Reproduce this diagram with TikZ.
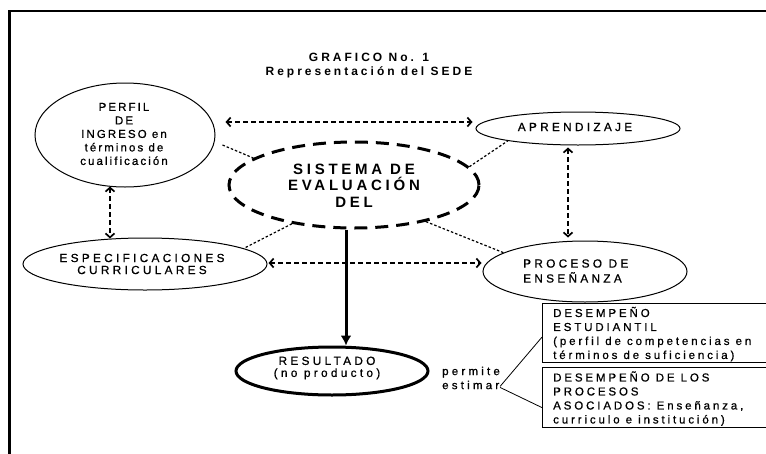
\documentclass[tikz,border=0pt]{standalone}
\usepackage{fontspec}
\setmainfont{Liberation Sans}
\newfontfamily\trk[LetterSpace=28,FakeBold=0.8]{Liberation Sans}
\newfontfamily\trkp[LetterSpace=18,FakeBold=0.8]{Liberation Sans}
\newfontfamily\trks[LetterSpace=25]{Liberation Sans}
\newfontfamily\trkb[LetterSpace=25,FakeBold=0.8]{Liberation Sans}
\usetikzlibrary{shapes.geometric,arrows.meta,calc}
\begin{document}
\begin{tikzpicture}[x=1pt,y=-1pt,
  ell/.style={ellipse, draw, line width=1pt, inner sep=0pt},
  lbl/.style={inner sep=0pt, align=center, font={\trk\fontsize{11.8}{12}\selectfont}},
  lblp/.style={inner sep=0pt, align=center, font={\trkp\fontsize{11.5}{13.5}\selectfont}},
  lbls/.style={inner sep=0pt, align=center, font={\trks\bfseries\fontsize{15}{16.5}\selectfont}},
  ttl/.style={inner sep=0pt, font={\trks\bfseries\fontsize{12}{15}\selectfont}},
  boxst/.style={draw, line width=1.2pt, inner sep=0pt},
  boxtxt/.style={inner sep=0pt, align=left, font={\trkb\fontsize{11.5}{14}\selectfont}},
  dbl/.style={line width=1.7pt, dash pattern=on 5pt off 3pt,
    {Straight Barb[length=4pt,width=9pt]}-{Straight Barb[length=4pt,width=9pt]}},
  thinln/.style={line width=1.2pt, dash pattern=on 2.5pt off 2pt},
  solidln/.style={line width=0.8pt},
  bigarrow/.style={line width=3pt, -{Latex[length=10pt,width=11pt]}}
]
\useasboundingbox (0,0) rectangle (766,453);
% frame
\draw[line width=3.5pt] (9.5,460) -- (9.5,10);
\draw[line width=2pt] (8,11) -- (780,11);
% title
\node[ttl] (t1) at (369,57) {GRAFICO No. 1};
\node[ttl] (t2) at (369,72) {Representación del SEDE};
% ellipses
\node[ell, minimum width=180pt, minimum height=104pt] (perfil) at (125,135) {};
\node[lblp] (perfilt) at (124,134) {PERFIL\\DE\\INGRESO en\\términos de\\cualificación};
\node[ell, minimum width=204pt, minimum height=33pt] (aprend) at (578,128.5) {};
\node[lbl] (aprendt) at (575,127) {APRENDIZAJE};
\node[ell, line width=3pt, dash pattern=on 13pt off 8pt, minimum width=250pt, minimum height=86pt] (sistema) at (354,185) {};
\node[lbls] (sistemat) at (354,185.5) {SISTEMA DE\\EVALUACIÓN\\DEL};
\node[ell, minimum width=244pt, minimum height=52pt] (espec) at (145,264) {};
\node[lbl] (espect) at (142,264) {ESPECIFICACIONES\\CURRICULARES};
\node[ell, minimum width=204pt, minimum height=61pt] (proceso) at (585,271.5) {};
\node[lbl, align=left, anchor=west, font={\trk\fontsize{11.8}{15}\selectfont}] (procesot) at (523,271) {PROCESO DE\\ENSEÑANZA};
\node[ell, line width=3pt, minimum width=192pt, minimum height=48pt] (result) at (332,371) {};
\node[lbl] (resultt) at (327,368) {RESULTADO\\(no producto)};
\node[lbl, align=left, anchor=west, font={\trk\fontsize{11.5}{14}\selectfont}] (perm) at (442,378) {permite\\estimar};
% boxes
\node[boxst, anchor=north west, minimum width=240pt, minimum height=59pt] (box1) at (542,303) {};
\node[boxtxt, anchor=west] (box1t) at ($(box1.west)+(11,1)$) {DESEMPEÑO\\ESTUDIANTIL\\(perfil de competencias en\\términos de suficiencia)};
\node[boxst, anchor=north west, minimum width=240pt, minimum height=60pt] (box2) at (542,367) {};
\node[boxtxt, anchor=west] (box2t) at ($(box2.west)+(11,1)$) {DESEMPEÑO DE LOS\\PROCESOS\\ASOCIADOS: Enseñanza,\\curriculo e institución)};
% double arrows
\draw[dbl] ($(perfil.east)+(10,-13)$) -- ($(aprend.west)+(-3,-6.5)$);
\draw[dbl] ($(perfil.south)+(-15,-1)$) -- ($(espec.north)+(-35,1)$);
\draw[dbl] ($(aprend.south)+(-10,2)$) -- ($(proceso.north)+(-17,-3)$);
\draw[dbl] ($(espec.east)+(1,-1)$) -- ($(proceso.west)+(-1,-8.5)$);
% thin connectors
\draw[thinln] ($(perfil.east)+(7,10)$) -- (sistema.165);
\draw[thinln] (sistema.9) -- (aprend.190);
\draw[thinln] (sistema.212) -- (espec.9);
\draw[thinln] (sistema.-27) -- (proceso.167);
% main arrow
\draw[bigarrow] ($(sistema.south)+(-8,0)$) -- ($(result.north)+(14,0)$);
% permite estimar lines
\draw[solidln] ($(perm.south east)+(0,-3)$) -- ($(box1.west)+(0,4)$);
\draw[solidln] ($(perm.south east)+(0,-2)$) -- ($(box2.west)+(0,10)$);
\end{tikzpicture}
\end{document}
